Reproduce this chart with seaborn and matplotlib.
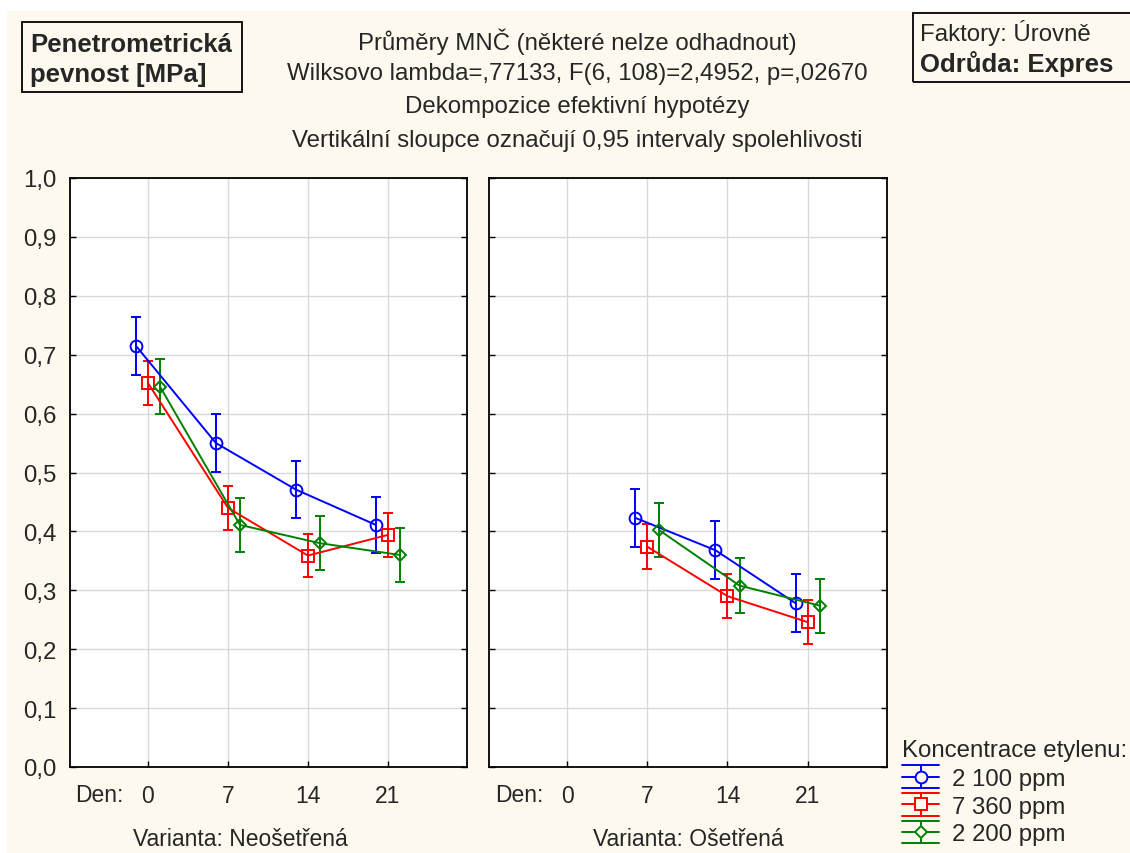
import numpy as np
import pandas as pd
import matplotlib
matplotlib.use("Agg")
import matplotlib.pyplot as plt
import seaborn as sns
from matplotlib.patches import Rectangle
from matplotlib.lines import Line2D
from matplotlib.legend_handler import HandlerBase

# %% data (means and half-widths of the 0.95 CI)
days = ["0", "7", "14", "21"]
day_prefix = "Den:"
konc = ["2 100 ppm", "7 360 ppm", "2 200 ppm"]
varianty = ["Varianta: Neošetřená", "Varianta: Ošetřená"]

neo_2100 = [0.715, 0.550, 0.471, 0.411]
neo_7360 = [0.652, 0.440, 0.359, 0.394]
neo_2200 = [0.646, 0.411, 0.380, 0.360]
neo_2100_ci = [0.049, 0.049, 0.049, 0.048]
neo_7360_ci = [0.038, 0.037, 0.037, 0.037]
neo_2200_ci = [0.046, 0.046, 0.046, 0.046]

ose_2100 = [np.nan, 0.423, 0.368, 0.278]
ose_7360 = [np.nan, 0.374, 0.290, 0.246]
ose_2200 = [np.nan, 0.402, 0.308, 0.274]
ose_2100_ci = [np.nan, 0.049, 0.049, 0.049]
ose_7360_ci = [np.nan, 0.038, 0.037, 0.037]
ose_2200_ci = [np.nan, 0.046, 0.047, 0.046]

yticks = [0.0, 0.1, 0.2, 0.3, 0.4, 0.5, 0.6, 0.7, 0.8, 0.9, 1.0]

colors = ["#0000FF", "#FF0000", "#008000"]
markers = ["o", "s", "D"]
msizes = [8.5, 8.5, 6]
offsets = [-0.15, 0.0, 0.15]

rows = []
for var, means, cis in [
    (varianty[0], [neo_2100, neo_7360, neo_2200], [neo_2100_ci, neo_7360_ci, neo_2200_ci]),
    (varianty[1], [ose_2100, ose_7360, ose_2200], [ose_2100_ci, ose_7360_ci, ose_2200_ci]),
]:
    for k, m, c, off in zip(konc, means, cis, offsets):
        for i, d in enumerate(days):
            rows.append({"varianta": var, "konc": k, "den": d,
                         "x": i + off, "mean": m[i], "ci": c[i]})
df = pd.DataFrame(rows).dropna()

# %% style
sns.set_theme(style="white")
plt.rcParams["font.family"] = ["Liberation Sans", "DejaVu Sans"]

bg = "#FEF9EF"
fs = 17.3
fs_x = 16.5
fs_box = 18.5

fig = plt.figure(figsize=(11.3, 8.54), dpi=100, facecolor="white")
fig.patches.append(Rectangle((7 / 1130, 0), 1, 1 - 12 / 854, transform=fig.transFigure,
                             facecolor=bg, edgecolor="none", zorder=-10))

ax_pos = [(70 / 1130, 397 / 1130), (489 / 1130, 398 / 1130)]
bottom = 1 - 768 / 854
height = (768 - 179) / 854
label_x = [0.428, 0.5]

axes = []
for j, var in enumerate(varianty):
    ax = fig.add_axes([ax_pos[j][0], bottom, ax_pos[j][1], height])
    ax.set_facecolor("white")
    sub = df[df["varianta"] == var]
    sns.lineplot(data=sub, x="x", y="mean", hue="konc", style="konc",
                 hue_order=konc, style_order=konc, palette=colors,
                 markers=markers, dashes=False, sort=True, lw=1.4,
                 markerfacecolor="none", legend=False, ax=ax, zorder=3)
    for ln, c, ms in zip(ax.lines, colors, msizes):
        ln.set_markeredgecolor(c)
        ln.set_markeredgewidth(1.4)
        ln.set_markersize(ms)
    for k, c in zip(konc, colors):
        s = sub[sub["konc"] == k]
        ax.errorbar(s["x"], s["mean"], yerr=s["ci"], fmt="none", ecolor=c,
                    elinewidth=1.4, capsize=3.8, capthick=1.4, zorder=2)

    ax.set_xlim(-0.975, 3.99)
    ax.set_ylim(0, 1.0)
    ax.set_xticks(range(len(days)))
    ax.set_xticklabels(days, fontsize=fs_x)
    ax.set_yticks(yticks)
    if j == 0:
        ax.set_yticklabels([f"{v:.1f}".replace(".", ",") for v in yticks], fontsize=fs)
    else:
        ax.set_yticklabels([])
    ax.grid(True, color="#D9D9D9", lw=1)
    ax.tick_params(axis="both", direction="in", length=4, width=1, color="black",
                   left=True, right=True, bottom=True, pad=10)
    ax.tick_params(axis="x", pad=12)
    for sp in ax.spines.values():
        sp.set_color("black")
        sp.set_linewidth(1.3)
    ax.set_xlabel("")
    ax.set_ylabel("")
    ax.text(-0.3, -0.047, day_prefix, transform=ax.get_xaxis_transform(),
            fontsize=fs_x, ha="right", va="center")
    ax.text(label_x[j], -0.122, var, transform=ax.transAxes, fontsize=fs_x,
            ha="center", va="center")
    axes.append(ax)

# %% titles and boxes
title_lines = ["Průměry MNČ (některé nelze odhadnout)",
               "Wilksovo lambda=,77133, F(6, 108)=2,4952, p=,02670",
               "Dekompozice efektivní hypotézy",
               "Vertikální sloupce označují 0,95 intervaly spolehlivosti"]
for t, yy in zip(title_lines, [42, 74, 107, 141]):
    fig.text(577 / 1130, 1 - yy / 854, t, fontsize=fs, ha="center", va="center")

fig.text(30 / 1130, 1 - 60 / 854, "Penetrometrická\npevnost [MPa]", fontsize=fs_box,
         fontweight="bold", ha="left", va="center", linespacing=1.3)
fig.patches.append(Rectangle((22 / 1130, 1 - 93 / 854), 220 / 1130, 70 / 854,
                             transform=fig.transFigure, fill=False, edgecolor="black", lw=1.3))

fig.text(920 / 1130, 1 - 33 / 854, "Faktory: Úrovně", fontsize=fs, ha="left", va="center")
fig.text(920 / 1130, 1 - 64 / 854, "Odrůda: Expres", fontsize=fs_box, fontweight="bold",
         ha="left", va="center")
fig.patches.append(Rectangle((913 / 1130, 1 - 83 / 854), 240 / 1130, 69 / 854,
                             transform=fig.transFigure, fill=False, edgecolor="black", lw=1.3))


# %% legend with errorbar-like symbols
class CapHandler(HandlerBase):
    def create_artists(self, legend, orig_handle, xdescent, ydescent, width, height,
                       fontsize, trans):
        c = orig_handle.get_color()
        cy = height / 2 - ydescent
        h = fontsize * 0.95
        x0, x1 = -xdescent, width - xdescent
        xm = (x0 + x1) / 2
        arts = [Line2D([x0, x1], [yy, yy], color=c, lw=1.4)
                for yy in (cy - h / 2, cy, cy + h / 2)]
        arts.append(Line2D([xm, xm], [cy - h / 2, cy + h / 2], color=c, lw=1.4))
        arts.append(Line2D([xm], [cy], marker=orig_handle.get_marker(),
                           ms=orig_handle.get_markersize(), mfc=bg, mec=c, mew=1.4))
        for a in arts:
            a.set_transform(trans)
        return arts


handles = [Line2D([], [], color=c, marker=m, ms=ms) for c, m, ms in zip(colors, markers, msizes)]
leg = fig.legend(handles, konc, title="Koncentrace etylenu:", loc="upper left",
                 bbox_to_anchor=(902 / 1130, 1 - 740 / 854), frameon=False,
                 fontsize=fs, title_fontsize=fs, handlelength=1.55, handletextpad=0.55,
                 labelspacing=0.24, borderpad=0, borderaxespad=0,
                 handler_map={Line2D: CapHandler()})
leg._legend_box.align = "left"
leg._legend_box.sep = 5

fig.savefig("out.png", dpi=100, facecolor="white")
